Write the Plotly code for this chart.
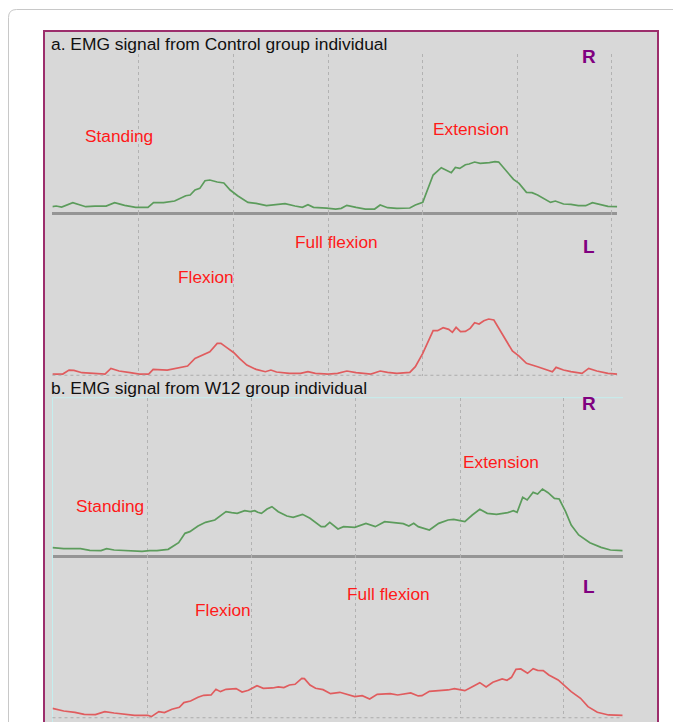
import plotly.graph_objects as go

# ---------------- data (sample index vs EMG amplitude, arbitrary units) ----------------
aR_t = [20,30,45,75,110,135,165,188,215,245,278,293,320,350,380,392,405,418,432,445,465,483,500,520,548,570,598,620,648,675,695,710,725,760,785,800,815,840,865,890,905,925,950,985,1000,1020,1035,1048,1070,1085,1097,1108,1120,1135,1145,1160,1175,1200,1215,1225,1245,1265,1280,1300,1315,1330,1365,1378,1400,1420,1440,1460,1478,1500,1520,1545]
aR_amp = [15,17,14,27,15,17,17,27,19,13,13,27,27,32,48,50,65,70,93,95,89,86,65,48,28,25,18,21,24,17,13,21,13,11,8,10,19,13,8,8,20,12,10,11,20,28,75,110,132,123,117,133,130,141,143,149,145,147,150,149,123,97,85,58,57,50,28,32,23,22,18,18,27,21,16,15]

aL_t = [20,48,65,78,100,130,162,178,200,230,255,280,292,330,360,385,405,425,445,465,475,490,510,525,545,570,595,610,625,660,690,710,730,765,790,815,840,880,905,925,950,985,1000,1020,1035,1048,1060,1075,1090,1100,1110,1122,1135,1148,1160,1172,1185,1198,1212,1225,1245,1262,1280,1300,1330,1355,1370,1380,1400,1420,1450,1468,1490,1520,1545]
aL_amp = [5,5,17,16,9,7,5,22,14,9,5,5,19,17,24,29,52,62,72,97,97,85,69,52,32,19,12,17,11,7,7,12,7,5,7,14,9,5,14,10,7,10,27,67,102,135,135,144,139,130,145,132,133,142,159,155,165,170,167,142,107,74,59,37,27,17,12,25,17,12,7,22,14,7,5]

bR_t = [20,50,95,120,150,165,185,210,235,260,280,300,330,358,375,388,410,430,455,465,485,500,515,535,550,562,570,580,595,608,625,648,665,690,710,740,750,763,785,800,830,860,885,910,930,960,975,988,1000,1030,1055,1080,1095,1112,1125,1145,1165,1185,1210,1240,1255,1265,1280,1292,1308,1320,1333,1348,1365,1378,1395,1410,1430,1460,1490,1515,1548]
bR_amp = [22,19,19,14,13,19,15,13,11,11,13,13,17,37,65,70,87,98,105,113,130,127,125,133,130,133,128,125,138,145,130,117,113,122,110,85,85,98,78,85,83,95,85,100,97,94,87,95,85,75,95,105,107,103,100,120,137,125,122,127,133,128,173,165,188,183,198,187,170,168,130,90,60,37,23,15,13]

bL_t = [20,50,80,105,135,160,185,210,240,275,285,305,320,340,360,372,390,410,425,445,458,470,485,512,528,545,568,585,610,625,640,655,670,688,695,710,725,745,765,790,810,830,850,870,890,905,925,945,960,980,1000,1010,1030,1060,1080,1097,1110,1125,1140,1165,1182,1200,1225,1238,1250,1262,1275,1293,1308,1320,1335,1350,1375,1390,1410,1435,1455,1480,1510,1548]
bL_amp = [30,22,18,12,11,20,16,13,9,9,5,20,17,27,33,47,52,63,69,70,87,80,87,89,79,84,98,90,91,94,92,100,102,120,119,100,90,86,74,78,72,65,68,58,72,72,74,70,72,76,67,68,81,84,85,89,86,83,92,107,94,108,118,114,123,147,148,135,149,144,143,130,115,100,80,60,35,18,10,9]

gridA = [253, 510, 766, 1020, 1275, 1530]
gridB = [275, 553, 832, 1112, 1390]

titleA = "a. EMG signal from Control group individual"
titleB = "b. EMG signal from W12 group individual"
phase_labels = ["Standing", "Flexion", "Full flexion", "Extension"]
side_labels = ["R", "L"]

# ---------------- layout helpers (page pixels; page body has an 8px margin) ----------------
OFF = 8
W, H = 681 - OFF, 722 - OFF
def fx(px): return (px - OFF) / W
def fy(py): return 1 - (py - OFF) / H

FONT = "Liberation Sans, Arial, sans-serif"
GREEN = "#5c9c5c"
RED = "#e05c5e"
BG = "#d8d8d8"

fig = go.Figure()
fig.add_trace(go.Scatter(x=aR_t, y=aR_amp, mode="lines", line=dict(color=GREEN, width=1.7), xaxis="x", yaxis="y"))
fig.add_trace(go.Scatter(x=aL_t, y=aL_amp, mode="lines", line=dict(color=RED, width=1.7), xaxis="x2", yaxis="y2"))
fig.add_trace(go.Scatter(x=bR_t, y=bR_amp, mode="lines", line=dict(color=GREEN, width=1.7), xaxis="x3", yaxis="y3"))
fig.add_trace(go.Scatter(x=bL_t, y=bL_amp, mode="lines", line=dict(color=RED, width=1.7), xaxis="x4", yaxis="y4"))

def xax(domain, rng, grid, anchor, line):
    return dict(domain=domain, range=rng, anchor=anchor, tickmode="array", tickvals=grid,
                showticklabels=False, ticks="", showgrid=True, gridcolor="#b2b2b2", griddash="dot",
                gridwidth=1, zeroline=False, showline=line, linecolor="#959595", linewidth=3, fixedrange=True)

def yax(domain, rng, anchor):
    return dict(domain=domain, range=rng, anchor=anchor, showticklabels=False, ticks="",
                showgrid=False, zeroline=False, showline=False, fixedrange=True)

xa_dom = [fx(52.4), fx(617.2)]
xb_dom = [fx(52.5), fx(622.7)]

fig.update_layout(
    width=W, height=H, margin=dict(l=0, r=0, t=0, b=0),
    paper_bgcolor="white", plot_bgcolor="rgba(0,0,0,0)", showlegend=False,
    xaxis=xax(xa_dom, [20, 1545], gridA, "y", True),
    yaxis=yax([fy(211.7), fy(54)], [0, 3 * (211.7 - 54)], "x"),
    xaxis2=xax(xa_dom, [20, 1545], gridA, "y2", False),
    yaxis2=yax([fy(375.7), fy(211.7)], [0, 3 * (375.7 - 211.7)], "x2"),
    xaxis3=xax(xb_dom, [20, 1548], gridB, "y3", True),
    yaxis3=yax([fy(555), fy(397.7)], [0, 3 * (555 - 397.7)], "x3"),
    xaxis4=xax(xb_dom, [20, 1548], gridB, "y4", False),
    yaxis4=yax([fy(718.3), fy(555)], [0, 3 * (718.3 - 555)], "x4"),
)

shapes = []
# outer rounded light frame
L, T, r = 8.5, 9.5, 8
path = (f"M {fx(L)},{fy(760)} L {fx(L)},{fy(T + r)} Q {fx(L)},{fy(T)} {fx(L + r)},{fy(T)} L {fx(720)},{fy(T)}")
shapes.append(dict(type="path", path=path, xref="paper", yref="paper",
                   line=dict(color="#c8c8c8", width=1), layer="below"))
# magenta panel frame with gray fill
shapes.append(dict(type="rect", xref="paper", yref="paper", x0=fx(44), x1=fx(658), y0=fy(760), y1=fy(31),
                   line=dict(color="#9c2e6c", width=2), fillcolor=BG, layer="below"))
# light cyan frame of panel b plot area
shapes.append(dict(type="line", xref="paper", yref="paper", x0=fx(52.5), x1=fx(623), y0=fy(397.7), y1=fy(397.7),
                   line=dict(color="#c4eeee", width=1), layer="below"))
shapes.append(dict(type="line", xref="paper", yref="paper", x0=fx(52.5), x1=fx(52.5), y0=fy(397.7), y1=fy(760),
                   line=dict(color="#c4eeee", width=1), layer="below"))
# dotted baselines of the L channels
for xr, yr in (("x2 domain", "y2"), ("x4 domain", "y4")):
    shapes.append(dict(type="line", xref=xr, yref=yr, x0=0, x1=1, y0=0, y1=0,
                       line=dict(color="#ababab", width=2, dash="dot")))
fig.update_layout(shapes=shapes)

ann = []
def txt(s, x, y, color, size, bold=False, xanchor="center"):
    ann.append(dict(text=f"<b>{s}</b>" if bold else s, x=fx(x), y=fy(y), xref="paper", yref="paper",
                    xanchor=xanchor, yanchor="middle", showarrow=False,
                    font=dict(family=FONT, size=size, color=color)))

txt(titleA, 49, 44, "#111111", 17.4, xanchor="left")
txt(titleB, 49, 388, "#111111", 17.4, xanchor="left")
LAB = "#ff1a1a"
PUR = "#800080"
# panel a
txt(phase_labels[0], 119, 135.5, LAB, 17.3)
txt(phase_labels[3], 471, 128.5, LAB, 17.3)
txt(phase_labels[2], 336, 242.5, LAB, 17.3)
txt(phase_labels[1], 206, 276.5, LAB, 17.3)
txt(side_labels[0], 589, 56.5, PUR, 19, bold=True)
txt(side_labels[1], 589, 247, PUR, 19, bold=True)
# panel b
txt(phase_labels[0], 110, 505.5, LAB, 17.3)
txt(phase_labels[3], 501, 462.5, LAB, 17.3)
txt(phase_labels[2], 388, 593.5, LAB, 17.3)
txt(phase_labels[1], 223, 609.5, LAB, 17.3)
txt(side_labels[0], 589, 403.5, PUR, 19, bold=True)
txt(side_labels[1], 589, 586.5, PUR, 19, bold=True)
fig.update_layout(annotations=ann)

fig.write_html("out.html")
